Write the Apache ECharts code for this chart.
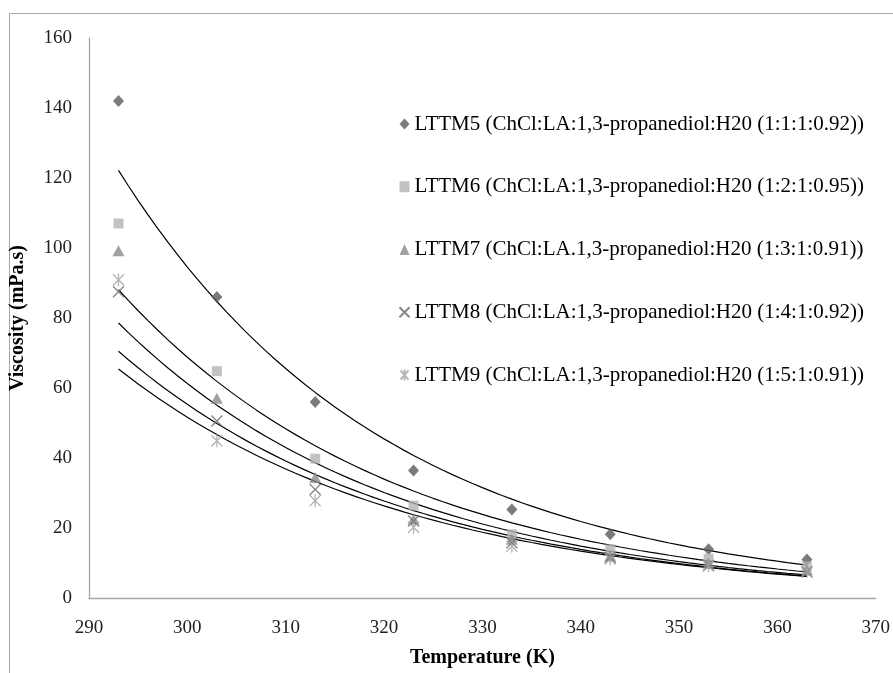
<!DOCTYPE html>
<html>
<head>
<meta charset="utf-8">
<script src="https://cdn.jsdelivr.net/npm/echarts@6/dist/echarts.min.js"></script>
<style>html,body{margin:0;padding:0;background:#fff;}#c{width:893px;height:673px;}</style>
</head>
<body>
<div id="c"></div>
<script>
const temperatures = [293, 303, 313, 323, 333, 343, 353, 363];
const seriesNames = [
  'LTTM5 (ChCl:LA:1,3-propanediol:H20 (1:1:1:0.92))',
  'LTTM6 (ChCl:LA:1,3-propanediol:H20 (1:2:1:0.95))',
  'LTTM7 (ChCl:LA.1,3-propanediol:H20 (1:3:1:0.91))',
  'LTTM8 (ChCl:LA:1,3-propanediol:H20 (1:4:1:0.92))',
  'LTTM9 (ChCl:LA:1,3-propanediol:H20 (1:5:1:0.91))'
];
const lttm5 = [142.0, 86.0, 56.0, 36.4, 25.3, 18.2, 13.9, 11.0];
const lttm6 = [107.0, 64.8, 39.8, 26.4, 18.2, 13.9, 11.2, 9.0];
const lttm7 = [99.2, 57.1, 34.4, 22.5, 16.8, 12.0, 10.0, 8.0];
const lttm8 = [87.5, 50.6, 31.0, 22.0, 15.8, 11.6, 9.3, 7.4];
const lttm9 = [90.9, 44.9, 27.8, 20.2, 14.8, 11.2, 9.2, 7.6];
const xTicks = [290, 300, 310, 320, 330, 340, 350, 360, 370];
const yTicks = [0, 20, 40, 60, 80, 100, 120, 140, 160];

const allValues = [lttm5, lttm6, lttm7, lttm8, lttm9];

const styles = [
  {symbol: 'diamond', symbolSize: [11, 12], itemStyle: {color: '#5a5a5a'}},
  {symbol: 'rect', symbolSize: 10, itemStyle: {color: '#b3b3b3'}},
  {symbol: 'triangle', symbolSize: [12, 11], itemStyle: {color: '#8a8a8a'}},
  {symbol: 'path://M0,0L10,10M10,0L0,10', symbolSize: 11, itemStyle: {color: 'none', borderColor: '#6a6a6a', borderWidth: 1.4}},
  {symbol: 'path://M0,0L10,12M10,0L0,12M5,-1L5,13', symbolSize: [11, 13], itemStyle: {color: 'none', borderColor: '#a3a3a3', borderWidth: 1.4}}
];

// Exponential trendline (least squares on ln y), as in the original spreadsheet trendlines
function expFit(xs, ys) {
  const n = xs.length;
  let sx = 0, sy = 0, sxx = 0, sxy = 0;
  for (let i = 0; i < n; i++) {
    const ly = Math.log(ys[i]);
    sx += xs[i]; sy += ly; sxx += xs[i] * xs[i]; sxy += xs[i] * ly;
  }
  const b = (n * sxy - sx * sy) / (n * sxx - sx * sx);
  const a = (sy - b * sx) / n;
  const pts = [];
  const x0 = xs[0], x1 = xs[n - 1];
  const steps = 70;
  for (let k = 0; k <= steps; k++) {
    const x = x0 + (x1 - x0) * k / steps;
    pts.push([x, Math.exp(a + b * x)]);
  }
  return pts;
}

const series = [];
allValues.forEach((vals, i) => {
  series.push({
    type: 'line',
    data: expFit(temperatures, vals),
    showSymbol: false,
    silent: true,
    lineStyle: {color: '#000', width: 1.2},
    z: 1
  });
});
allValues.forEach((vals, i) => {
  series.push(Object.assign({
    name: seriesNames[i],
    type: 'scatter',
    data: temperatures.map((t, j) => [t, vals[j]]),
    z: 3
  }, styles[i]));
});

const chart = echarts.init(document.getElementById('c'));
chart.setOption({
  animation: false,
  backgroundColor: '#fff',
  textStyle: {fontFamily: 'Liberation Serif'},
  graphic: [{
    type: 'rect',
    shape: {x: 9.5, y: 13.5, width: 900, height: 700},
    style: {fill: 'none', stroke: '#a6a6a6', lineWidth: 1},
    silent: true
  }],
  grid: {left: 88, right: 16, top: 38, bottom: 72},
  legend: {
    orient: 'vertical',
    left: 392,
    top: 108,
    itemWidth: 10,
    itemHeight: 11,
    itemGap: 40.75,
    data: seriesNames,
    textStyle: {fontFamily: 'Liberation Serif', fontSize: 21, color: '#000', lineHeight: 22}
  },
  xAxis: {
    type: 'value',
    min: 290, max: 370, interval: 10,
    name: 'Temperature (K)',
    nameLocation: 'middle',
    nameGap: 50,
    nameTextStyle: {fontFamily: 'Liberation Serif', fontWeight: 'bold', fontSize: 20, color: '#000'},
    axisLine: {show: true, lineStyle: {color: '#a6a6a6', width: 1.3}},
    axisTick: {show: false},
    splitLine: {show: false},
    axisLabel: {fontFamily: 'Liberation Serif', fontSize: 19, color: '#222', margin: 21,
      formatter: v => xTicks.includes(v) ? String(v) : ''}
  },
  yAxis: {
    type: 'value',
    min: 0, max: 160, interval: 20,
    name: 'Viscosity (mPa.s)',
    nameLocation: 'middle',
    nameGap: 61,
    nameTextStyle: {fontFamily: 'Liberation Serif', fontWeight: 'bold', fontSize: 20, color: '#000'},
    axisLine: {show: true, lineStyle: {color: '#a6a6a6', width: 1.3}},
    axisTick: {show: false},
    splitLine: {show: false},
    axisLabel: {fontFamily: 'Liberation Serif', fontSize: 19, color: '#222', margin: 17,
      formatter: v => yTicks.includes(v) ? String(v) : ''}
  },
  series: series
});
</script>
</body>
</html>
